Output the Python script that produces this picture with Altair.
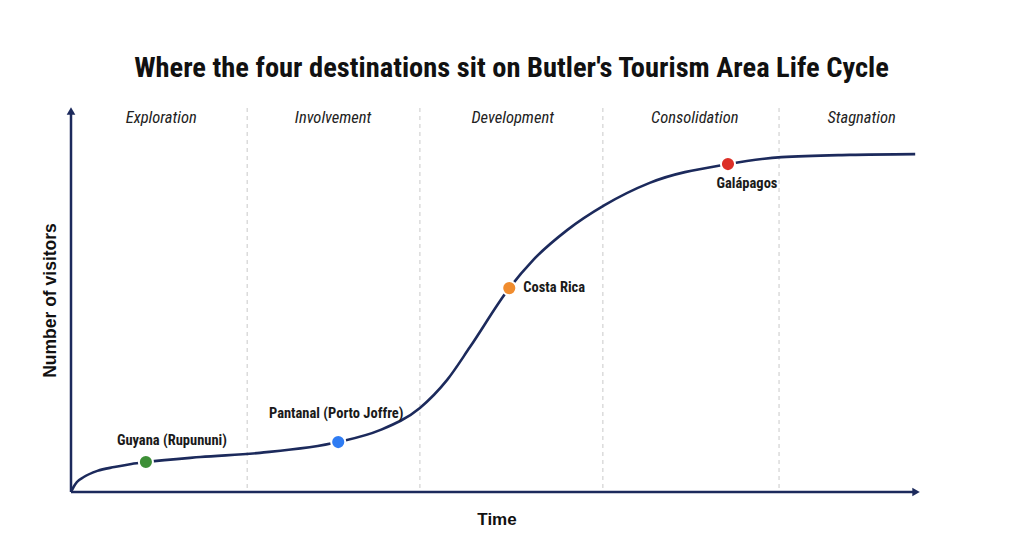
import altair as alt
import pandas as pd

# ---- data ----
curve_x = [0.0, 0.3, 0.7, 1.5, 3.1, 5.1, 7.1, 8.8, 15.2, 22.2, 31.4, 36.3, 41.0, 44.2, 46.9, 51.5, 54.3, 58.3, 62.7, 68.0, 77.2, 83.5, 91.5, 99.2]
curve_y = [0.0, 1.3, 2.6, 3.9, 5.5, 6.5, 7.3, 7.8, 9.1, 10.2, 13.0, 16.1, 21.9, 29.2, 37.8, 53.1, 60.4, 68.2, 74.7, 80.5, 85.4, 87.2, 87.8, 88.0]

stages = ["Exploration", "Involvement", "Development", "Consolidation", "Stagnation"]
stage_centers = [10.6, 30.8, 51.9, 73.3, 92.9]
stage_label_y = 97.5
stage_bounds = [20.7, 41.0, 62.5, 83.2]

places = ["Guyana (Rupununi)", "Pantanal (Porto Joffre)", "Costa Rica", "Galápagos"]
place_x = [8.8, 31.4, 51.5, 77.2]
place_y = [7.8, 13.0, 53.1, 85.4]
place_colors = ["#3d8f37", "#2f7cf3", "#f08c2e", "#dc2f27"]

axis_x_end = 99.3
axis_y_end = 99.2

NAVY = "#1c2a5c"
NARROW = "Liberation Sans Narrow, Arial Narrow, Roboto Condensed, DejaVu Sans Condensed, sans-serif"

W, H = 851, 384

xs = alt.Scale(domain=[0, 100])
ys = alt.Scale(domain=[0, 100])
x_axis = alt.Axis(domain=False, ticks=False, labels=False, grid=False,
                  title="Time", titleFontSize=17, titleFont="Liberation Sans",
                  titleFontWeight="bold", titleColor="#111111", titlePadding=19)
y_axis = alt.Axis(domain=False, ticks=False, labels=False, grid=False,
                  title="Number of visitors", titleFontSize=17.5, titleFont="Liberation Sans",
                  titleFontWeight="bold", titleColor="#111111", titlePadding=12)
X = lambda f: alt.X(f, type="quantitative", scale=xs, axis=x_axis)
Y = lambda f: alt.Y(f, type="quantitative", scale=ys, axis=y_axis)

curve_df = pd.DataFrame({"x": curve_x, "y": curve_y})
stage_df = pd.DataFrame({"stage": stages, "x": stage_centers, "y": [stage_label_y] * len(stages)})
bound_df = pd.DataFrame({"x": stage_bounds})
place_df = pd.DataFrame({"place": places, "x": place_x, "y": place_y, "color": place_colors})
axes_df = pd.DataFrame({"x": [0, 0], "y": [0, 0], "x2": [axis_x_end, 0], "y2": [0, axis_y_end]})
arrow_df = pd.DataFrame({"x": [axis_x_end, 0], "y": [0, axis_y_end], "shape": ["triangle-right", "triangle-up"]})

bounds = alt.Chart(bound_df).mark_rule(color="#c9c9c9", strokeDash=[4, 4], strokeWidth=1).encode(x=X("x"))

stage_text = alt.Chart(stage_df).mark_text(font=NARROW, fontStyle="italic", fontSize=16.5, color="#222222").encode(
    x=X("x"), y=Y("y"), text="stage:N")

axes_lines = alt.Chart(axes_df).mark_rule(color=NAVY, strokeWidth=2.5).encode(
    x=X("x"), y=Y("y"), x2="x2:Q", y2="y2:Q")

arrows = alt.Chart(arrow_df).mark_point(filled=True, size=75, color=NAVY, opacity=1).encode(
    x=X("x"), y=Y("y"), shape=alt.Shape("shape:N", scale=None))

curve = alt.Chart(curve_df).mark_line(color=NAVY, strokeWidth=2.6, interpolate="monotone").encode(
    x=X("x"), y=Y("y"))

points = alt.Chart(place_df).mark_circle(size=200, opacity=1, stroke="white", strokeWidth=2).encode(
    x=X("x"), y=Y("y"), color=alt.Color("color:N", scale=None))

label_offsets = {
    "Guyana (Rupununi)": dict(dx=26, dy=-21, align="center"),
    "Pantanal (Porto Joffre)": dict(dx=-2, dy=-28, align="center"),
    "Costa Rica": dict(dx=14, dy=0, align="left"),
    "Galápagos": dict(dx=19, dy=20, align="center"),
}
labels = []
for name, off in label_offsets.items():
    labels.append(
        alt.Chart(place_df).transform_filter(alt.datum.place == name).mark_text(
            font=NARROW, fontWeight="bold", fontSize=14.5, color="#1a1a1a", baseline="middle", **off
        ).encode(x=X("x"), y=Y("y"), text="place:N")
    )

chart = alt.layer(bounds, stage_text, axes_lines, curve, arrows, points, *labels).properties(
    width=W, height=H,
    title=alt.TitleParams("Where the four destinations sit on Butler's Tourism Area Life Cycle",
                          font=NARROW, fontSize=28.5, fontWeight="bold", color="#111111",
                          anchor="middle", dx=15, offset=25),
    autosize=alt.AutoSizeParams(type="none"),
    padding={"left": 71, "top": 108, "right": 102, "bottom": 64},
    background="white",
).configure_view(stroke=None)

chart.save("out.html", embed_options={"renderer": "svg", "actions": False})
